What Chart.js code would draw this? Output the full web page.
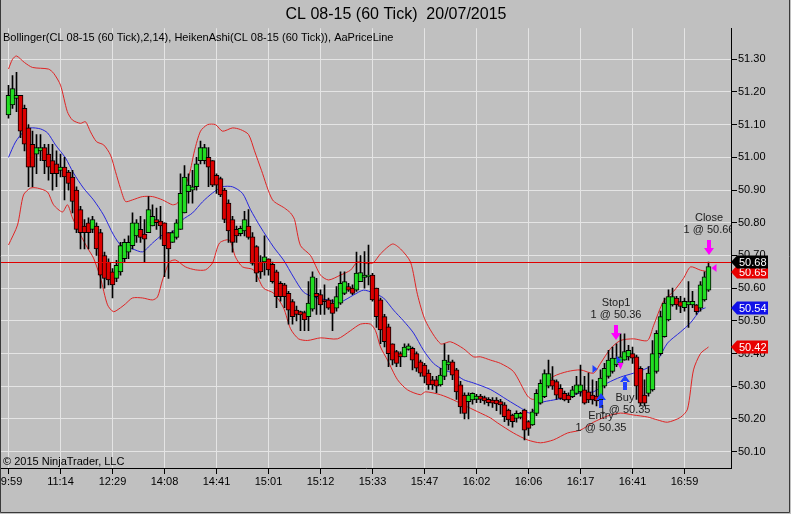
<!DOCTYPE html>
<html>
<head>
<meta charset="utf-8">
<script src="https://cdn.jsdelivr.net/npm/chart.js@4.4.1/dist/chart.umd.min.js"></script>
<style>
  html, body { margin: 0; padding: 0; background: #c0c0c0; }
  canvas { display: block; }
</style>
</head>
<body>
<canvas id="chart" width="791" height="514"></canvas>
<script>
/* ============================================================
   CL 08-15 (60 Tick) - Heiken Ashi + Bollinger(2,14)
   ============================================================ */

// ---- eje de tiempo (indice de barra -> etiqueta) ----
var timeTickIdx = [0, 13, 26, 39, 52, 65, 78, 91, 104, 117, 130, 143, 156, 169];
var timeLabels = ['09:59', '11:14', '12:29', '14:08', '14:41', '15:01', '15:12',
                  '15:33', '15:47', '16:02', '16:06', '16:17', '16:41', '16:59'];
var priceTicks = [50.10, 50.20, 50.30, 50.40, 50.50, 50.60, 50.70, 50.80, 50.90, 51.00, 51.10, 51.20, 51.30];

// ---- velas Heiken Ashi ----
var haOpen = [
  51.13, 51.16, 51.18, 51.19, 51.15, 51.09, 51.04, 51.01, 51.02, 51.03,
  51.01, 50.99, 50.98, 50.96, 50.97, 50.955, 50.94, 50.90, 50.84, 50.79,
  50.80, 50.78, 50.79, 50.77, 50.70, 50.68, 50.65, 50.63, 50.65, 50.69,
  50.71, 50.73, 50.76, 50.78, 50.765, 50.77, 50.79, 50.81, 50.805, 50.80,
  50.77, 50.74, 50.755, 50.78, 50.83, 50.895, 50.90, 50.91, 50.99, 50.99,
  51.00, 50.99, 50.945, 50.935, 50.90, 50.86, 50.81, 50.78, 50.767, 50.775,
  50.79, 50.757, 50.727, 50.68, 50.68, 50.69, 50.673, 50.65, 50.615, 50.61,
  50.584, 50.559, 50.533, 50.528, 50.525, 50.513, 50.536, 50.584, 50.58, 50.564,
  50.564, 50.554, 50.539, 50.554, 50.584, 50.605, 50.60, 50.594, 50.62, 50.633,
  50.635, 50.64, 50.60, 50.564, 50.513, 50.482, 50.43, 50.406, 50.40, 50.39,
  50.413, 50.416, 50.40, 50.375, 50.365, 50.34, 50.32, 50.32, 50.304, 50.33,
  50.365, 50.375, 50.35, 50.304, 50.273, 50.253, 50.258, 50.26, 50.27, 50.265,
  50.26, 50.258, 50.258, 50.253, 50.243, 50.227, 50.212, 50.202, 50.205, 50.227,
  50.192, 50.182, 50.217, 50.248, 50.268, 50.30, 50.32, 50.314, 50.294, 50.278,
  50.273, 50.268, 50.278, 50.283, 50.289, 50.283, 50.273, 50.27, 50.258, 50.30,
  50.33, 50.345, 50.365, 50.37, 50.38, 50.39, 50.40, 50.39, 50.355, 50.273,
  50.278, 50.289, 50.345, 50.40, 50.452, 50.503, 50.549, 50.57, 50.559, 50.54,
  50.549, 50.549, 50.549, 50.539, 50.564, 50.594
];
var haHigh = [
  51.22, 51.25, 51.26, 51.19, 51.16, 51.10, 51.08, 51.07, 51.07, 51.04,
  51.04, 51.04, 51.02, 51.01, 51.00, 50.96, 50.96, 50.91, 50.85, 50.81,
  50.815, 50.82, 50.80, 50.78, 50.71, 50.69, 50.66, 50.685, 50.74, 50.75,
  50.76, 50.83, 50.81, 50.82, 50.81, 50.88, 50.855, 50.845, 50.85, 50.80,
  50.77, 50.775, 50.81, 50.95, 50.975, 50.95, 50.96, 51.00, 51.05, 51.04,
  51.03, 50.99, 50.95, 50.94, 50.905, 50.87, 50.82, 50.79, 50.79, 50.835,
  50.84, 50.77, 50.73, 50.70, 50.76, 50.69, 50.68, 50.655, 50.62, 50.615,
  50.59, 50.565, 50.545, 50.53, 50.53, 50.62, 50.65, 50.63, 50.595, 50.61,
  50.57, 50.565, 50.605, 50.65, 50.65, 50.615, 50.61, 50.71, 50.70, 50.712,
  50.732, 50.645, 50.60, 50.57, 50.52, 50.49, 50.43, 50.41, 50.405, 50.43,
  50.43, 50.42, 50.405, 50.38, 50.37, 50.35, 50.33, 50.33, 50.355, 50.43,
  50.395, 50.38, 50.355, 50.315, 50.28, 50.28, 50.28, 50.275, 50.275, 50.27,
  50.265, 50.265, 50.265, 50.26, 50.25, 50.23, 50.215, 50.225, 50.22, 50.23,
  50.195, 50.23, 50.29, 50.32, 50.35, 50.38, 50.36, 50.32, 50.305, 50.285,
  50.28, 50.30, 50.33, 50.365, 50.33, 50.34, 50.32, 50.315, 50.35, 50.37,
  50.41, 50.42, 50.43, 50.46, 50.46, 50.425, 50.42, 50.395, 50.36, 50.32,
  50.36, 50.44, 50.47, 50.53, 50.57, 50.595, 50.60, 50.575, 50.575, 50.57,
  50.62, 50.59, 50.55, 50.62, 50.65, 50.68
];
var haLow = [
  51.12, 51.15, 51.14, 51.06, 51.02, 50.91, 50.91, 50.95, 50.99, 50.95,
  50.93, 50.90, 50.91, 50.94, 50.87, 50.90, 50.83, 50.77, 50.72, 50.72,
  50.72, 50.77, 50.70, 50.60, 50.60, 50.61, 50.57, 50.62, 50.64, 50.68,
  50.69, 50.72, 50.74, 50.74, 50.68, 50.77, 50.79, 50.78, 50.75, 50.635,
  50.63, 50.74, 50.75, 50.78, 50.83, 50.86, 50.86, 50.90, 50.98, 50.98,
  50.91, 50.91, 50.89, 50.88, 50.80, 50.74, 50.71, 50.74, 50.76, 50.76,
  50.75, 50.67, 50.62, 50.63, 50.64, 50.64, 50.615, 50.54, 50.56, 50.54,
  50.49, 50.49, 50.50, 50.47, 50.47, 50.47, 50.53, 50.52, 50.52, 50.52,
  50.535, 50.47, 50.53, 50.55, 50.58, 50.59, 50.58, 50.59, 50.62, 50.60,
  50.61, 50.56, 50.48, 50.43, 50.42, 50.36, 50.365, 50.36, 50.36, 50.39,
  50.41, 50.35, 50.345, 50.33, 50.31, 50.29, 50.29, 50.28, 50.30, 50.32,
  50.35, 50.32, 50.26, 50.217, 50.20, 50.20, 50.245, 50.25, 50.25, 50.245,
  50.24, 50.235, 50.225, 50.215, 50.192, 50.18, 50.175, 50.19, 50.20, 50.136,
  50.15, 50.18, 50.21, 50.245, 50.265, 50.295, 50.29, 50.26, 50.26, 50.255,
  50.25, 50.265, 50.275, 50.27, 50.245, 50.25, 50.245, 50.24, 50.245, 50.295,
  50.325, 50.34, 50.36, 50.36, 50.38, 50.38, 50.37, 50.26, 50.24, 50.24,
  50.27, 50.285, 50.34, 50.395, 50.45, 50.50, 50.545, 50.535, 50.525, 50.53,
  50.48, 50.54, 50.52, 50.53, 50.56, 50.59
];
var haClose = [
  51.19, 51.21, 51.19, 51.08, 51.04, 50.97, 50.97, 51.03, 51.03, 50.99,
  50.97, 50.95, 50.95, 50.97, 50.94, 50.92, 50.865, 50.78, 50.77, 50.77,
  50.77, 50.81, 50.72, 50.64, 50.63, 50.625, 50.61, 50.67, 50.73, 50.74,
  50.74, 50.80, 50.80, 50.755, 50.75, 50.84, 50.82, 50.80, 50.79, 50.73,
  50.72, 50.77, 50.80, 50.89, 50.94, 50.915, 50.91, 50.98, 51.03, 51.03,
  50.97, 50.915, 50.915, 50.885, 50.81, 50.775, 50.74, 50.76, 50.783, 50.81,
  50.755, 50.676, 50.646, 50.65, 50.696, 50.656, 50.62, 50.574, 50.574, 50.574,
  50.533, 50.513, 50.52, 50.518, 50.503, 50.554, 50.635, 50.574, 50.549, 50.559,
  50.539, 50.523, 50.574, 50.615, 50.62, 50.594, 50.584, 50.646, 50.648, 50.64,
  50.64, 50.564, 50.513, 50.472, 50.436, 50.40, 50.38, 50.37, 50.39, 50.42,
  50.424, 50.38, 50.355, 50.34, 50.33, 50.304, 50.304, 50.30, 50.334, 50.38,
  50.375, 50.334, 50.283, 50.237, 50.217, 50.273, 50.278, 50.27, 50.26, 50.255,
  50.25, 50.248, 50.246, 50.243, 50.207, 50.197, 50.192, 50.217, 50.217, 50.166,
  50.171, 50.222, 50.278, 50.309, 50.339, 50.339, 50.30, 50.273, 50.263, 50.258,
  50.258, 50.289, 50.304, 50.304, 50.248, 50.258, 50.258, 50.255, 50.325, 50.355,
  50.38, 50.386, 50.386, 50.39, 50.406, 50.41, 50.386, 50.30, 50.248, 50.248,
  50.34, 50.40, 50.462, 50.513, 50.554, 50.574, 50.574, 50.549, 50.544, 50.56,
  50.559, 50.56, 50.528, 50.61, 50.635, 50.666
];

// ---- Bollinger (2,14): banda superior, media y banda inferior ----
var upperIdx = [0, 1, 2, 4, 6, 10, 11.3, 13, 14.7, 16, 18, 19.25, 20.5, 22, 23.8, 25.5, 26.75, 28, 29.25,
  31, 33.5, 36, 38.5, 41, 42.25, 43.5, 45.25, 46.5, 48, 49.75, 51.75, 53.5, 56, 58, 60, 61.5, 63.25,
  66, 69, 70.5, 71.5, 73, 75.5, 78, 80, 83, 85.5, 87.25, 89.75, 91.25, 93, 96, 98, 100.5, 102.25,
  104.25, 108, 110.5, 113.75, 116.25, 118, 120.5, 123, 126.25, 129.75, 131.25, 133.75, 136.25, 139.75,
  143, 146.25, 148, 150.5, 153, 156.25, 159.75, 161.25, 163.75, 166.25, 168.75, 170.5, 173, 175];
var upperVal = [51.27, 51.30, 51.31, 51.29, 51.275, 51.27, 51.257, 51.221, 51.14, 51.114, 51.104, 51.109, 51.078,
  51.048, 51.038, 51.007, 50.956, 50.905, 50.865,
  50.87, 50.88, 50.88, 50.87, 50.855, 50.86, 50.89, 50.95, 51.02, 51.08, 51.10, 51.10, 51.08, 51.09, 51.085, 51.07, 51.02, 50.96,
  50.87, 50.845, 50.83, 50.81, 50.73, 50.70, 50.64, 50.625, 50.64, 50.655, 50.68, 50.675, 50.678, 50.705, 50.735, 50.72, 50.68, 50.58,
  50.50, 50.43, 50.436, 50.415, 50.39, 50.39, 50.38, 50.37, 50.345, 50.27, 50.26, 50.30, 50.33, 50.345,
  50.35, 50.34, 50.37, 50.415, 50.44, 50.445, 50.44, 50.485, 50.56, 50.59, 50.63, 50.665, 50.655, 50.65];

var midIdx = [0, 1.75, 3.75, 5.5, 8, 9.75, 11.75, 14.25, 16.25, 18.75, 21.25, 23.75, 26.25, 28, 29.25, 31, 33.5,
  36, 38.5, 41, 43.5, 46, 48.5, 51, 53.5, 56, 58.5, 60.5, 63, 66.25, 68.75, 71.25, 73.75, 76.25, 79.75,
  83, 86.25, 88.75, 91.25, 93.75, 96.25, 98.75, 101.25, 103.75, 106.25, 108.75, 111.25, 113.75, 116.25,
  120.5, 124.75, 128, 130.5, 133, 136.25, 139.75, 143, 146.25, 149.75, 153, 156.25, 159.75, 162.25,
  164.75, 168, 170.5, 173, 174.25];
var midVal = [51.00, 51.047, 51.078, 51.09, 51.087, 51.075, 51.038, 50.998, 50.952, 50.906, 50.87, 50.824, 50.763,
  50.732, 50.726, 50.72, 50.711, 50.738, 50.763, 50.772, 50.809, 50.83, 50.864, 50.891, 50.91, 50.91, 50.89,
  50.84, 50.787, 50.726, 50.686, 50.634, 50.588, 50.573, 50.564, 50.558, 50.579, 50.594, 50.585, 50.57,
  50.533, 50.50, 50.463, 50.41, 50.37, 50.35, 50.34, 50.32, 50.31, 50.29, 50.258, 50.234, 50.218,
  50.249, 50.258, 50.267, 50.28, 50.283, 50.31, 50.328, 50.34, 50.356, 50.38, 50.432, 50.466, 50.494,
  50.533, 50.54];

var lowerIdx = [0, 2.25, 3.75, 5.5, 7.25, 9.75, 11.25, 13.5, 14.75, 16, 18, 19.75, 21.25, 23, 24.75, 26.25, 28,
  29.25, 31, 33.5, 36, 37.25, 38.5, 40.25, 41.75, 44.25, 46.75, 49.25, 51, 52.75, 55.25, 56.75, 58.5,
  61.25, 63.75, 66.25, 68.75, 70.5, 72.5, 74.75, 78, 82.25, 85.5, 88, 90.5, 91.75, 93, 94.75, 97.25,
  99.75, 103, 104.25, 108, 111.25, 114.75, 118, 120.5, 122.25, 126.25, 129.75, 133, 136.25, 139.75,
  143, 146.25, 149.75, 153, 156.25, 159.75, 162.25, 164.75, 168, 169.75, 171.25, 173, 175];
var lowerVal = [50.732, 50.793, 50.885, 50.906, 50.906, 50.894, 50.855, 50.833, 50.855, 50.815, 50.763, 50.723, 50.692,
  50.631, 50.549, 50.528, 50.54, 50.552, 50.57, 50.57, 50.564, 50.573, 50.625, 50.68, 50.686, 50.665, 50.656,
  50.656, 50.677, 50.738, 50.747, 50.695, 50.665, 50.656, 50.60, 50.585, 50.54, 50.476, 50.445, 50.44,
  50.448, 50.445, 50.47, 50.49, 50.49, 50.47, 50.42, 50.38, 50.32, 50.289, 50.274, 50.283, 50.274, 50.258,
  50.237, 50.218, 50.203, 50.188, 50.157, 50.136, 50.127, 50.136, 50.157, 50.166, 50.19, 50.209, 50.218,
  50.212, 50.206, 50.197, 50.19, 50.205, 50.23, 50.35, 50.40, 50.42];

// ---- linea de precio y etiquetas del eje ----
var priceLine = 50.68;
var tagValues = [50.42, 50.54, 50.65, 50.68];
var tagColors = ['#e80000', '#1010e8', '#e80000', '#000000'];

// ---- operaciones (flechas y textos) ----
var tradeNames = ['Entry', 'Buy', 'Stop1', 'Close'];
var tradeQty = ['1 @ 50.35', '1 @ 50.35', '1 @ 50.36', '1 @ 50.66'];
var tradeIdx = [148, 154, 151.75, 175];
var tradePrice = [50.279, 50.334, 50.442, 50.70];
var tradeDir = ['up', 'up', 'down', 'down'];

// ---- marcas de ejecucion ----
var execIdx = [148, 154, 153, 175];
var execPrice = [50.353, 50.38, 50.36, 50.662];
var execKind = ['entry', 'entry', 'stop', 'exit'];

var GREEN = '#22dd22', RED = '#dd0000', BLUE_ARROW = '#1f3fff', MAGENTA = '#ff00ff';
var FONT = 'Arial, "Liberation Sans", sans-serif';

function pairs(xs, ys) {
  return xs.map(function(x, i) { return { x: x, y: ys[i] }; });
}

var wickData = haHigh.map(function(h, i) { return { x: i, y: [haLow[i], h] }; });
var bodyData = haOpen.map(function(o, i) { return { x: i, y: [o, haClose[i]] }; });
var bodyColors = haOpen.map(function(o, i) { return haClose[i] >= o ? GREEN : RED; });

function drawArrow(c, x, tip, dir, color) {
  c.fillStyle = color;
  c.beginPath();
  if (dir === 'down') {
    c.rect(x - 2, tip - 15, 4, 9);
    c.moveTo(x - 5, tip - 7); c.lineTo(x + 5, tip - 7); c.lineTo(x, tip);
  } else {
    c.rect(x - 2, tip + 6, 4, 9);
    c.moveTo(x - 5, tip + 7); c.lineTo(x + 5, tip + 7); c.lineTo(x, tip);
  }
  c.closePath();
  c.fill();
}

var overlay = {
  id: 'overlay',
  beforeDraw: function(chart) {
    var c = chart.ctx;
    c.save();
    c.fillStyle = '#c0c0c0';
    c.fillRect(0, 0, chart.width, chart.height);
    c.restore();
  },
  afterDatasetsDraw: function(chart) {
    var c = chart.ctx, a = chart.chartArea, sx = chart.scales.x, sy = chart.scales.y;
    c.save();
    c.beginPath();
    c.rect(a.left, a.top, a.right - a.left, a.bottom - a.top);
    c.clip();

    // linea de precio
    var py = Math.round(sy.getPixelForValue(priceLine)) + 0.5;
    c.strokeStyle = '#e00000';
    c.lineWidth = 1;
    c.beginPath(); c.moveTo(a.left, py); c.lineTo(a.right, py); c.stroke();

    // marcas de ejecucion
    for (var e = 0; e < execIdx.length; e++) {
      var ex = sx.getPixelForValue(execIdx[e]);
      var ey = sy.getPixelForValue(execPrice[e]);
      c.beginPath();
      if (execKind[e] === 'entry') {
        c.fillStyle = BLUE_ARROW;
        c.moveTo(ex - 8, ey - 4); c.lineTo(ex - 3, ey); c.lineTo(ex - 8, ey + 4);
      } else if (execKind[e] === 'exit') {
        c.fillStyle = MAGENTA;
        c.moveTo(ex + 8, ey - 4); c.lineTo(ex + 3, ey); c.lineTo(ex + 8, ey + 4);
      } else {
        c.fillStyle = MAGENTA;
        c.moveTo(ex - 3, ey - 4); c.lineTo(ex + 3, ey - 4); c.lineTo(ex, ey + 3);
      }
      c.closePath();
      c.fill();
    }

    // flechas y textos de las operaciones
    c.font = '11px ' + FONT;
    c.textAlign = 'center';
    c.textBaseline = 'middle';
    for (var t = 0; t < tradeIdx.length; t++) {
      var tx = Math.round(sx.getPixelForValue(tradeIdx[t]));
      var ty = Math.round(sy.getPixelForValue(tradePrice[t]));
      var up = tradeDir[t] === 'up';
      drawArrow(c, tx, ty, tradeDir[t], up ? BLUE_ARROW : MAGENTA);
      c.fillStyle = '#202020';
      c.fillText(tradeNames[t], tx, up ? ty + 23 : ty - 37);
      c.fillText(tradeQty[t], tx, up ? ty + 35 : ty - 25);
    }

    // textos del panel
    c.textAlign = 'left';
    c.fillStyle = '#000';
    c.fillText('Bollinger(CL 08-15 (60 Tick),2,14), HeikenAshi(CL 08-15 (60 Tick)), AaPriceLine', 3, 38);
    c.fillText('\u00A9 2015 NinjaTrader, LLC', 3, 462);
    c.restore();
  },
  afterDraw: function(chart) {
    var c = chart.ctx, a = chart.chartArea, sy = chart.scales.y;
    c.save();
    c.font = '11px ' + FONT;
    c.textBaseline = 'middle';
    c.textAlign = 'left';
    for (var k = 0; k < tagValues.length; k++) {
      var ty = Math.round(sy.getPixelForValue(tagValues[k]));
      var l = Math.round(a.right);
      c.fillStyle = tagColors[k];
      c.beginPath();
      c.moveTo(l, ty);
      c.lineTo(l + 6, ty - 6.5);
      c.lineTo(l + 37, ty - 6.5);
      c.lineTo(l + 37, ty + 6.5);
      c.lineTo(l + 6, ty + 6.5);
      c.closePath();
      c.fill();
      c.fillStyle = '#fff';
      c.fillText(tagValues[k].toFixed(2), l + 8, ty + 0.5);
    }
    // marco
    c.strokeStyle = '#3a3a3a';
    c.lineWidth = 1;
    c.beginPath();
    c.moveTo(0.5, 0); c.lineTo(0.5, 512.5);
    c.lineTo(789.5, 512.5); c.lineTo(789.5, 0);
    c.stroke();
    c.restore();
  }
};

Chart.defaults.font.family = FONT;
Chart.defaults.color = '#000';

new Chart(document.getElementById('chart').getContext('2d'), {
  type: 'bar',
  data: {
    datasets: [
      { type: 'line', data: pairs(upperIdx, upperVal), borderColor: '#e02424', borderWidth: 1,
        pointRadius: 0, tension: 0.25, order: 5 },
      { type: 'line', data: pairs(midIdx, midVal), borderColor: '#2626dd', borderWidth: 1,
        pointRadius: 0, tension: 0.25, order: 4 },
      { type: 'line', data: pairs(lowerIdx, lowerVal), borderColor: '#e02424', borderWidth: 1,
        pointRadius: 0, tension: 0.25, order: 5 },
      { type: 'bar', data: wickData, backgroundColor: '#000', barThickness: 1,
        grouped: false, order: 2 },
      { type: 'bar', data: bodyData, backgroundColor: bodyColors, borderColor: '#000',
        borderWidth: 1, borderSkipped: false, barThickness: 5, grouped: false, order: 1 }
    ]
  },
  options: {
    responsive: false,
    animation: false,
    devicePixelRatio: 1,
    events: [],
    layout: { padding: { left: 1, right: 0, top: 0, bottom: 0 } },
    plugins: {
      legend: { display: false },
      tooltip: { enabled: false },
      title: {
        display: true,
        text: 'CL 08-15 (60 Tick)  20/07/2015',
        color: '#000',
        font: { family: FONT, size: 16, weight: 'normal' },
        padding: { top: 5, bottom: 4 }
      }
    },
    scales: {
      x: {
        type: 'linear',
        // medio pixel de desplazamiento para que mechas y cuerpos queden nitidos
        min: -1.875,
        max: 180.625,
        offset: false,
        afterBuildTicks: function(s) {
          s.ticks = timeTickIdx.map(function(v) { return { value: v }; });
        },
        afterFit: function(s) { s.height = 46; s.paddingLeft = 0; s.paddingRight = 0; },
        ticks: {
          autoSkip: false,
          maxRotation: 0,
          padding: 1,
          color: '#000',
          font: { size: 11 },
          callback: function(v) {
            var k = timeTickIdx.indexOf(v);
            return k >= 0 ? timeLabels[k] : '';
          }
        },
        grid: { color: '#e4e4e4', tickColor: '#000', tickLength: 6, offset: false },
        border: { color: '#000', width: 1 }
      },
      y: {
        type: 'linear',
        position: 'right',
        min: 50.05,
        max: 51.395,
        afterBuildTicks: function(s) {
          s.ticks = priceTicks.map(function(v) { return { value: v }; });
        },
        afterFit: function(s) { s.width = 60; s.paddingTop = 0; s.paddingBottom = 0; },
        ticks: {
          padding: 1,
          color: '#000',
          font: { size: 11 },
          callback: function(v) { return Number(v).toFixed(2); }
        },
        grid: { color: '#e4e4e4', tickColor: '#000', tickLength: 6 },
        border: { color: '#000', width: 1 }
      }
    }
  },
  plugins: [overlay]
});
</script>
</body>
</html>
